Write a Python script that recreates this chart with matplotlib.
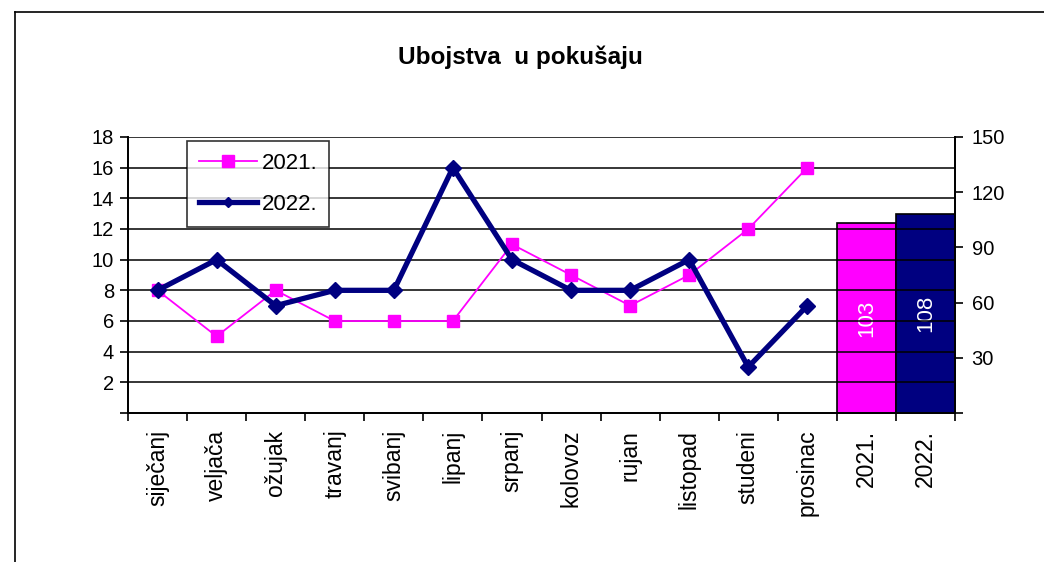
import matplotlib
matplotlib.use("Agg")
import matplotlib.pyplot as plt
import numpy as np
from matplotlib.lines import Line2D

plt.rcParams['font.family'] = ['Liberation Sans', 'DejaVu Sans']

months = ['siječanj', 'veljača', 'ožujak', 'travanj', 'svibanj', 'lipanj', 'srpanj',
          'kolovoz', 'rujan', 'listopad', 'studeni', 'prosinac']
year_labels = ['2021.', '2022.']
vals_2021 = [8, 5, 8, 6, 6, 6, 11, 9, 7, 9, 12, 16]
vals_2022 = [8, 10, 7, 8, 8, 16, 10, 8, 8, 10, 3, 7]
totals = [103, 108]
title = 'Ubojstva  u pokušaju'

c21 = '#FF00FF'
c22 = '#000080'

W, H = 1044, 562
fig = plt.figure(figsize=(W / 100, H / 100), dpi=100)
fig.patch.set_facecolor('white')

# outer frame (left and top edges visible)
fig.add_artist(Line2D([15 / W, 15 / W], [0, 1 - 12 / H], transform=fig.transFigure, color='black', lw=1.2))
fig.add_artist(Line2D([15 / W, 1], [1 - 12 / H, 1 - 12 / H], transform=fig.transFigure, color='black', lw=1.2))

left, right, bottom, top = 128 / W, 955 / W, 1 - 413 / H, 1 - 137 / H
ax = fig.add_axes([left, bottom, right - left, top - bottom])
ax2 = ax.twinx()

n = len(months) + len(year_labels)
ax.set_xlim(0, n)
ax.set_ylim(0, 18)
ax2.set_ylim(0, 150)

x_months = np.arange(len(months)) + 0.5
ax.plot(x_months, vals_2021, color=c21, lw=1.3, marker='s', ms=9, mfc=c21, mec=c21, zorder=4)
ax.plot(x_months, vals_2022, color=c22, lw=3.8, marker='D', ms=8, mfc=c22, mec=c22, zorder=5)

x_bars = np.arange(len(year_labels)) + len(months) + 0.5
bars = ax2.bar(x_bars, totals, width=1.0, color=[c21, c22], edgecolor='black', lw=1.2, zorder=3)
for xb, v in zip(x_bars, totals):
    ax2.text(xb, v / 2, str(v), rotation=90, ha='center', va='center', color='white', fontsize=16)

# gridlines
ax.set_yticks(np.arange(0, 19, 2))
ax.set_yticklabels([''] + [str(v) for v in range(2, 19, 2)], fontsize=14.5)
for yv in range(2, 19, 2):
    ax.axhline(yv, color='black', lw=1.1, zorder=1)
ax2.set_yticks(np.arange(0, 151, 30))
ax2.set_yticklabels([''] + [str(v) for v in range(30, 151, 30)], fontsize=14.5)

# x ticks
ax.set_xticks(np.arange(n) + 0.5)
ax.set_xticklabels(months + year_labels, rotation=90, fontsize=16.5)
ax.set_xticks(np.arange(n + 1), minor=True)
ax.tick_params(axis='x', which='major', length=0, pad=12)
ax.tick_params(axis='x', which='minor', length=6, width=1.2, direction='out')
ax.tick_params(axis='y', length=6, width=1.2, direction='out', pad=4)
ax2.tick_params(axis='y', length=6, width=1.2, direction='out', pad=6)

for a in (ax, ax2):
    a.spines['top'].set_visible(False)
    for s in ('left', 'right', 'bottom'):
        a.spines[s].set_linewidth(1.3)
ax.set_zorder(ax2.get_zorder() + 1)
ax.patch.set_visible(False)

# legend
h1 = Line2D([], [], color=c21, lw=1.3, marker='s', ms=9, mfc=c21, mec=c21)
h2 = Line2D([], [], color=c22, lw=3.8, marker='D', ms=5, mfc=c22, mec=c22)
leg = ax.legend([h1, h2], ['2021.', '2022.'], loc='upper left',
                bbox_to_anchor=((187 - 128) / (955 - 128), 1 - (141 - 137) / 276),
                fontsize=16, frameon=True, fancybox=False, edgecolor='black',
                handlelength=2.6, labelspacing=0.9, borderpad=0.55, borderaxespad=0, handletextpad=0.2)
leg.get_frame().set_linewidth(1.2)

fig.text(520 / W, 1 - 57 / H, title, ha='center', va='center', fontsize=17.5, fontweight='bold')

fig.savefig('out.png', dpi=100)
